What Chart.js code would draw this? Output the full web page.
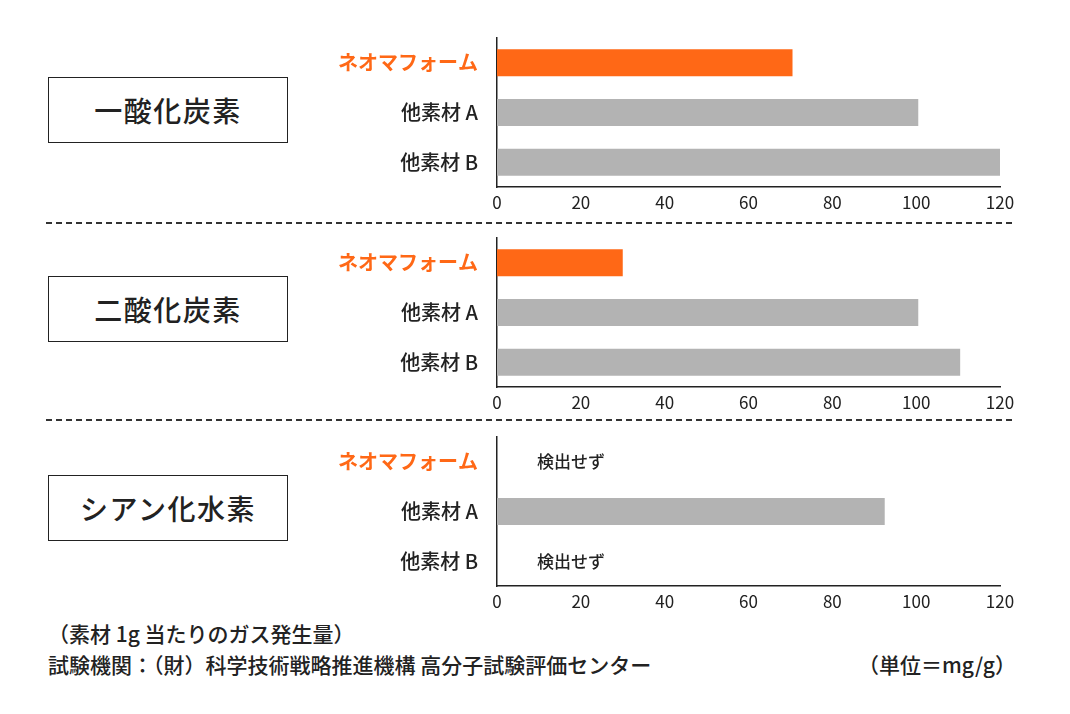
<!DOCTYPE html>
<html lang="ja">
<head>
<meta charset="utf-8">
<script src="https://cdn.jsdelivr.net/npm/chart.js@4.4.1/dist/chart.umd.min.js"></script>
<style>
  html, body { margin: 0; padding: 0; background: #fff; }
  body { width: 1070px; height: 714px; position: relative; overflow: hidden;
         font-family: "Noto Sans CJK JP", "Noto Sans", sans-serif; color: #222; }
  .panel { position: absolute; left: 300px; width: 740px; height: 187px; }
  .gasBox { position: absolute; left: 48px; width: 238px; height: 64px;
            border: 1.5px solid #222; display: flex; align-items: center; justify-content: center;
            font-size: 28px; font-weight: 500; letter-spacing: 1.5px; }
  .sep { position: absolute; left: 46px; width: 970px; height: 1.5px;
         background: repeating-linear-gradient(to right, #333 0 6px, transparent 6px 10px); }
  .note { position: absolute; font-size: 21px; font-weight: 500; line-height: 24px; white-space: nowrap; }
</style>
</head>
<body>

<div class="gasBox" style="top:77px">一酸化炭素</div>
<div class="gasBox" style="top:276px">二酸化炭素</div>
<div class="gasBox" style="top:475px">シアン化水素</div>

<div class="panel" style="top:28px"><canvas id="coChart"></canvas></div>
<div class="sep" style="top:222px"></div>
<div class="panel" style="top:228px"><canvas id="co2Chart"></canvas></div>
<div class="sep" style="top:419px"></div>
<div class="panel" style="top:427px"><canvas id="hcnChart"></canvas></div>

<div class="note" style="left:48px; top:621px">（素材 1g 当たりのガス発生量）</div>
<div class="note" style="left:48px; top:652px">試験機関：（財）科学技術戦略推進機構 高分子試験評価センター</div>
<div class="note" style="right:54px; top:652px">（単位＝mg/g）</div>

<script>
const categories = ['ネオマフォーム', '他素材 A', '他素材 B'];
const coValues = [70.5, 100.5, 120];
const co2Values = [30, 100.5, 110.5];
const hcnValues = [null, 92.5, null];
const xMin = 0;
const xMax = 120;
const xStep = 20;
const notDetectedText = '検出せず';

const orange = '#ff6816';
const gray = '#b3b3b3';
const ink = '#222';
const font = '"Noto Sans CJK JP", "Noto Sans", sans-serif';

// writes 検出せず where a value is missing
const notDetectedPlugin = {
    id: 'notDetected',
    afterDatasetsDraw(chart) {
        const ctx = chart.ctx;
        const xs = chart.scales.x;
        const ys = chart.scales.y;
        chart.data.datasets[0].data.forEach((v, i) => {
            if (v !== null) return;
            ctx.save();
            ctx.font = '500 17px ' + font;
            ctx.fillStyle = ink;
            ctx.textAlign = 'left';
            ctx.textBaseline = 'middle';
            ctx.fillText(notDetectedText, xs.getPixelForValue(0) + 40, ys.getPixelForValue(i));
            ctx.restore();
        });
    }
};

function makeChart(id, values) {
    const ctx = document.getElementById(id).getContext('2d');
    return new Chart(ctx, {
        type: 'bar',
        data: {
            labels: categories,
            datasets: [{
                data: values,
                backgroundColor: values.map((v, i) => i === 0 ? orange : gray),
                borderWidth: 0,
                barPercentage: 0.545,
                categoryPercentage: 1
            }]
        },
        options: {
            indexAxis: 'y',
            responsive: true,
            maintainAspectRatio: false,
            animation: false,
            layout: { padding: { top: 10, right: 40, left: 0, bottom: 0 } },
            plugins: {
                legend: { display: false },
                tooltip: { enabled: false }
            },
            scales: {
                x: {
                    min: xMin,
                    max: xMax,
                    grid: { display: false, drawTicks: false },
                    border: { display: true, color: ink, width: 1.5 },
                    ticks: {
                        stepSize: xStep,
                        padding: 5,
                        color: ink,
                        font: { family: font, size: 17 }
                    },
                    afterFit: s => { s.height = 28; }
                },
                y: {
                    grid: { display: false, drawTicks: false },
                    border: { display: true, color: ink, width: 1.5 },
                    ticks: {
                        padding: 19,
                        color: c => c.index === 0 ? orange : ink,
                        font: c => ({ family: font, size: 20, weight: c.index === 0 ? 'bold' : '500' })
                    },
                    // fixed label column, no extra top/bottom padding
                    afterFit: s => { s.width = 197; s.paddingTop = 0; s.paddingBottom = 0; }
                }
            }
        },
        plugins: [notDetectedPlugin]
    });
}

let coChart = makeChart('coChart', coValues);
let co2Chart = makeChart('co2Chart', co2Values);
let hcnChart = makeChart('hcnChart', hcnValues);
</script>
</body>
</html>
